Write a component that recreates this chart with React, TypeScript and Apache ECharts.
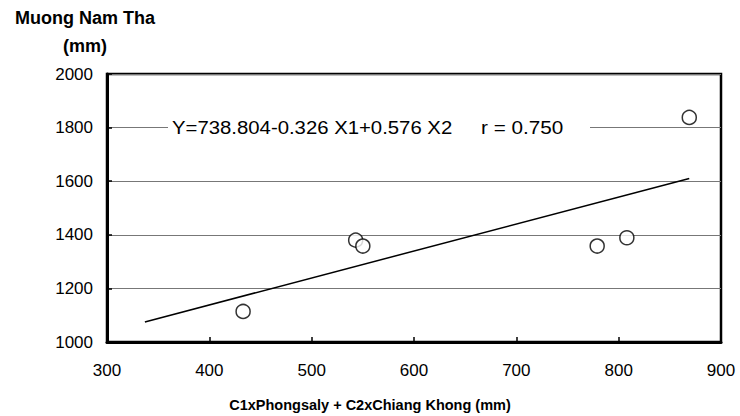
import React, { useEffect, useRef } from "react";
import * as echarts from "echarts";

const xValues = [433, 543, 550, 779, 808, 869];
const yValues = [1114, 1380, 1358, 1358, 1389, 1838];
const fitX = [337, 869];
const fitY = [1075, 1610];
const xTicks = { min: 300, max: 900, interval: 100 };
const yTicks = { min: 1000, max: 2000, interval: 200 };
const yTitle = ["Muong Nam Tha", "(mm)"];
const xTitle = "C1xPhongsaly + C2xChiang Khong (mm)";
const equation = "Y=738.804-0.326 X1+0.576 X2";
const rText = "r = 0.750";

const FONT = "Liberation Sans, Arial, sans-serif";

export default function App() {
  const ref = useRef<HTMLDivElement>(null);
  useEffect(() => {
    if (!ref.current) return;
    const chart = echarts.init(ref.current, null, { renderer: "svg" });
    const points = xValues.map((x, i) => [x, yValues[i]]);
    const fit = fitX.map((x, i) => [x, fitY[i]]);
    chart.setOption({
      animation: false,
      backgroundColor: "#fff",
      textStyle: { fontFamily: FONT },
      grid: {
        left: 107,
        right: 19,
        top: 74,
        bottom: 74,
        show: true,
        borderColor: "#000",
        borderWidth: 2.5,
        backgroundColor: "transparent",
      },
      xAxis: {
        type: "value",
        min: xTicks.min,
        max: xTicks.max,
        interval: xTicks.interval,
        axisLine: { show: true, lineStyle: { color: "#000", width: 3 } },
        axisTick: { show: true, inside: true, length: 5, lineStyle: { color: "#000", width: 1.5 } },
        axisLabel: { fontSize: 17, color: "#000", margin: 20, fontFamily: FONT, formatter: (v: number) => String(v) },
        splitLine: { show: false },
      },
      yAxis: {
        type: "value",
        min: yTicks.min,
        max: yTicks.max,
        interval: yTicks.interval,
        axisLine: { show: true, lineStyle: { color: "#000", width: 3 } },
        axisTick: { show: true, inside: true, length: 5, lineStyle: { color: "#000", width: 1.5 } },
        axisLabel: { fontSize: 17, color: "#000", margin: 14, fontFamily: FONT, formatter: (v: number) => String(v) },
        splitLine: { show: true, lineStyle: { color: "#777", width: 1 } },
      },
      graphic: [
        {
          type: "text",
          x: 85,
          y: 18,
          style: {
            text: yTitle[0],
            fontSize: 18,
            fontWeight: "bold",
            fill: "#000",
            fontFamily: FONT,
            align: "center",
            verticalAlign: "middle",
          },
        },
        {
          type: "text",
          x: 85,
          y: 46,
          style: {
            text: yTitle[1],
            fontSize: 18,
            fontWeight: "bold",
            fill: "#000",
            fontFamily: FONT,
            align: "center",
            verticalAlign: "middle",
          },
        },
        {
          type: "text",
          x: 370,
          y: 405,
          style: {
            text: xTitle,
            fontSize: 14.5,
            fontWeight: "bold",
            fill: "#000",
            fontFamily: FONT,
            align: "center",
            verticalAlign: "middle",
          },
        },
        {
          type: "rect",
          z: 100,
          shape: { x: 168, y: 119, width: 422, height: 17 },
          style: { fill: "#fff" },
        },
        {
          type: "text",
          z: 101,
          x: 172,
          y: 128,
          scaleX: 1.13,
          style: {
            text: equation,
            fontSize: 18,
            fill: "#000",
            fontFamily: FONT,
            align: "left",
            verticalAlign: "middle",
          },
        },
        {
          type: "text",
          z: 101,
          x: 481,
          y: 128,
          scaleX: 1.15,
          style: {
            text: rText,
            fontSize: 18,
            fill: "#000",
            fontFamily: FONT,
            align: "left",
            verticalAlign: "middle",
          },
        },
      ],
      series: [
        {
          type: "line",
          data: fit,
          symbol: "none",
          lineStyle: { color: "#000", width: 1.5 },
          z: 3,
        },
        {
          type: "scatter",
          data: points,
          symbol: "circle",
          symbolSize: 14,
          itemStyle: { color: "#fff", borderColor: "#000", borderWidth: 1.5 },
          z: 4,
        },
      ],
    });
    return () => chart.dispose();
  }, []);
  return (
    <div
      ref={ref}
      style={{ position: "fixed", left: 0, top: 0, width: 740, height: 416 }}
    />
  );
}
